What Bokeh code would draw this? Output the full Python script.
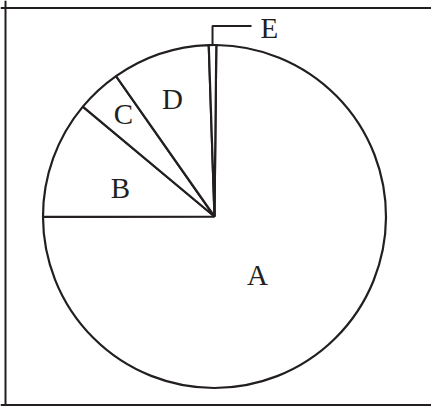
import math
from bokeh.plotting import figure
from bokeh.models import Range1d, Span, ColumnDataSource
from bokeh.core.properties import value
from bokeh.embed import file_html
from bokeh.resources import INLINE

# ---- data ----
categories = ["A", "B", "C", "D", "E"]
shares = [74.8, 11.1, 4.2, 9.2, 0.7]

# ---- layout ----
W, H = 431, 406
cx, cy, R = 214, 190, 171.5
start_deg = 89.4  # first slice starts just right of 12 o'clock, slices run clockwise
# label offsets from centre (px), E uses a leader line
label_offsets = {"A": (43, -58), "B": (-94, 29), "C": (-91, 103), "D": (-42, 118)}
ink = "#231f20"

p = figure(width=W, height=H, output_backend="svg", toolbar_location=None,
           x_range=Range1d(0, W), y_range=Range1d(0, H),
           x_axis_location=None, y_axis_location=None, min_border=0,
           background_fill_color="white", border_fill_color="white")
p.grid.visible = False
p.outline_line_color = None

total = sum(shares)
starts, ends, mids = [], [], []
a = math.radians(start_deg)
for v in shares:
    sweep = 2 * math.pi * v / total
    starts.append(a)
    ends.append(a - sweep)
    mids.append(a - sweep / 2)
    a -= sweep

src = ColumnDataSource(dict(cat=categories, start=starts, end=ends))
p.wedge(x=cx, y=cy, radius=R, start_angle="start", end_angle="end",
        direction="clock", source=src, fill_color="white",
        line_color=ink, line_width=2.2)

# labels inside slices
lx, ly, lt = [], [], []
for c in categories:
    if c in label_offsets:
        dx, dy = label_offsets[c]
        lx.append(cx + dx); ly.append(cy + dy); lt.append(c)
p.text(x=lx, y=ly, text=lt, text_font=value("Liberation Serif"),
       text_font_size="29px", text_align="center", text_baseline="middle",
       text_color=ink)

# E label with leader line
iE = categories.index("E")
m = mids[iE]
x0, y0 = cx + R * math.cos(m), cy + R * math.sin(m)
p.line(x=[x0, x0, x0 + 39], y=[y0, y0 + 19, y0 + 19], line_color=ink, line_width=2)
p.text(x=[x0 + 48], y=[y0 + 17], text=["E"], text_font=value("Liberation Serif"),
       text_font_size="29px", text_align="left", text_baseline="middle",
       text_color=ink)

# frame (left, top, bottom)
for loc, dim in [(5, "height"), (398.5, "width"), (1.5, "width")]:
    p.add_layout(Span(location=loc, dimension=dim, line_color=ink, line_width=2))

open("out.html", "w").write(file_html(p, INLINE))
